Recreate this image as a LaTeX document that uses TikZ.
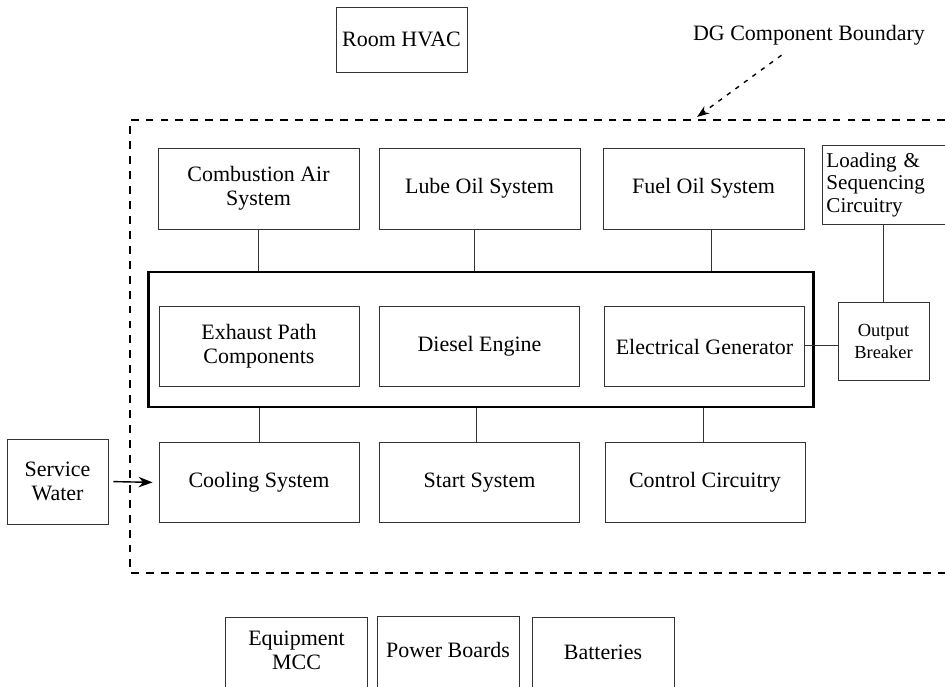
\documentclass[tikz,border=0pt]{standalone}
\usepackage{fontspec}
\setmainfont{Liberation Serif}
\usetikzlibrary{arrows.meta}

\begin{document}
\begin{tikzpicture}[x=0.02cm,y=-0.02cm,
  every node/.style={font=\fontsize{12.5}{13.5}\selectfont},
  blk/.style={draw=black!80,line width=0.5pt,align=center,inner sep=0pt},
  sys/.style={blk,minimum width=4.02cm,minimum height=1.62cm},
  part/.style={blk,minimum width=4cm,minimum height=1.6cm},
  supply/.style={blk,anchor=north,minimum width=2.84cm,text depth=2cm,inner sep=0pt},
  link/.style={draw=black!80,line width=0.5pt}]
  \clip (0,0) rectangle (945,686);
  \path
  node[blk,minimum width=2.62cm,minimum height=1.3cm] (hvac) at (401.5,39.5) {Room HVAC}
  node (dglabel) at (809,35) {DG Component Boundary}
  node[sys] (comb) at (258.5,188.5) {Combustion Air\\System}
  node[sys] (lube) at (479.5,188.5) {Lube Oil System}
  node[sys] (fuel) at (703.5,188.5) {Fuel Oil System}
  node[blk,anchor=north west,minimum height=1.58cm,text width=2.36cm,align=left,
       inner xsep=0.08cm,font=\fontsize{12}{13}\selectfont] (load) at (822,145) {Loading \&\\Sequencing\\Circuitry}
  node[draw,line width=1.3pt,minimum width=13.3cm,minimum height=2.7cm] (dg) at (481,339.5) {}
  node[part] (exh) at (259,346.5) {Exhaust Path\\Components}
  node[part] (eng) at (479.5,346.5) {Diesel Engine}
  node[part] (gen) at (704.5,346.5) {Electrical Generator}
  node[blk,minimum width=1.82cm,minimum height=1.56cm,font=\fontsize{10.5}{12.5}\selectfont] (brk) at (883.5,341) {Output\\Breaker}
  node[part] (cool) at (259,482.5) {Cooling System}
  node[part] (start) at (479.5,482.5) {Start System}
  node[part] (ctrl) at (705,482) {Control Circuitry}
  node[blk,minimum width=2.02cm,minimum height=1.7cm] (sw) at (57.5,481.5) {Service\\Water}
  node[supply] (mcc) at (296.5,617) {\rule{0pt}{5.6mm}Equipment\\MCC}
  node[supply] (board) at (448,615.5) {\rule{0pt}{8.4mm}Power Boards}
  node[supply] (bat) at (603,617) {\rule{0pt}{8.5mm}Batteries}
  ;
  % DG component boundary
  \draw[dashed,line width=0.8pt,dash pattern=on 4.5pt off 4pt] (945,120) -- (130,120) -- (130,573) -- (945,573);
  \coordinate (dgtail) at ([xshift=-0.55cm,yshift=-0.08cm]dglabel.south);
  \coordinate (dgtip) at (697,117);
  \draw[line width=0.8pt,dash pattern=on 2.5pt off 3.5pt,-{Stealth[length=7pt,width=5pt]}] (dgtail) -- (dgtip);
  \path[link]
  (comb.south) edge (comb.south |- dg.north)
  ([xshift=-0.11cm]lube.south) edge ([xshift=-0.11cm]lube.south |- dg.north)
  ([xshift=0.15cm]fuel.south) edge ([xshift=0.15cm]fuel.south |- dg.north)
  (cool.north) edge (cool.north |- dg.south)
  ([xshift=-0.07cm]start.north) edge ([xshift=-0.07cm]start.north |- dg.south)
  ([xshift=-0.04cm]ctrl.north) edge ([xshift=-0.04cm]ctrl.north |- dg.south)
  ([yshift=0.03cm]gen.east) edge ([yshift=0.03cm]gen.east -| brk.west)
  (load.south -| brk.north) edge (brk.north)
  ;
  \draw[line width=0.8pt,-{Stealth[length=8pt,width=6pt]},shorten <=0.1cm,shorten >=0.12cm] (sw.east) -- (cool.west);
\end{tikzpicture}
\end{document}
